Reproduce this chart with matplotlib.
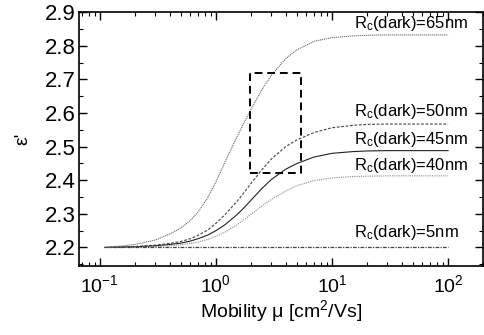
import matplotlib
matplotlib.use("Agg")
import matplotlib.pyplot as plt
from matplotlib.ticker import MultipleLocator, LogLocator, NullFormatter

plt.rcParams["font.family"] = ["Liberation Sans", "DejaVu Sans"]
plt.rcParams["mathtext.fontset"] = "custom"
plt.rcParams["mathtext.rm"] = "Liberation Sans"
plt.rcParams["mathtext.it"] = "Liberation Sans:italic"

# mobility grid (cm^2/Vs) and epsilon'
mobility = [0.11, 0.15, 0.2, 0.3, 0.4, 0.5, 0.6, 0.7, 0.85, 1.0, 1.2, 1.5, 1.7,
            2.0, 2.5, 3.0, 4.0, 5.0, 7.0, 10, 15, 20, 30, 50, 100]
eps_65 = [2.201, 2.204, 2.209, 2.222, 2.240, 2.258, 2.280, 2.305, 2.348, 2.395, 2.455, 2.525, 2.563,
          2.610, 2.670, 2.712, 2.762, 2.788, 2.813, 2.824, 2.829, 2.831, 2.832, 2.832, 2.832]
eps_50 = [2.200, 2.201, 2.203, 2.207, 2.212, 2.218, 2.226, 2.236, 2.252, 2.272, 2.298, 2.335, 2.358,
          2.390, 2.432, 2.463, 2.500, 2.520, 2.542, 2.556, 2.563, 2.566, 2.567, 2.567, 2.567]
eps_45 = [2.200, 2.201, 2.202, 2.205, 2.209, 2.213, 2.219, 2.226, 2.237, 2.250, 2.268, 2.296, 2.314,
          2.340, 2.376, 2.402, 2.433, 2.450, 2.469, 2.480, 2.485, 2.487, 2.488, 2.488, 2.488]
eps_40 = [2.200, 2.200, 2.201, 2.203, 2.205, 2.208, 2.212, 2.216, 2.224, 2.233, 2.246, 2.266, 2.280,
          2.298, 2.324, 2.343, 2.368, 2.384, 2.399, 2.407, 2.411, 2.412, 2.413, 2.413, 2.413]
eps_5 = [2.200, 2.200, 2.200, 2.200, 2.200, 2.200, 2.200, 2.200, 2.200, 2.200, 2.200, 2.200, 2.200,
         2.200, 2.200, 2.200, 2.200, 2.200, 2.200, 2.200, 2.200, 2.200, 2.200, 2.200, 2.200]

labels = ["65nm", "50nm", "45nm", "40nm", "5nm"]
label_y = [2.866, 2.603, 2.522, 2.445, 2.245]

# highlighted region (mu range, eps range)
box_mu = [1.96, 5.4]
box_eps = [2.422, 2.718]

fig = plt.figure(figsize=(4.84, 3.35), dpi=100)
ax = fig.add_axes([0.163, 0.206, 0.835, 0.758])

styles = [
    dict(ls=(0, (1, 0.8)), color="#666666", lw=0.8),
    dict(ls=(0, (2.5, 1.5)), color="#444444", lw=0.8),
    dict(ls="-", color="#222222", lw=0.8),
    dict(ls=(0, (1, 1)), color="#888888", lw=0.8),
    dict(ls=(0, (3, 1, 1, 1)), color="#444444", lw=0.9),
]
for eps, st in zip([eps_65, eps_50, eps_45, eps_40, eps_5], styles):
    ax.plot(mobility, eps, **st)

ax.plot([box_mu[0], box_mu[1], box_mu[1], box_mu[0], box_mu[0]],
        [box_eps[0], box_eps[0], box_eps[1], box_eps[1], box_eps[0]],
        color="black", lw=1.4, ls=(0, (4, 2.5)))

for lab, y in zip(labels, label_y):
    ax.text(15.6, y, r"R$_\mathrm{c}$(dark)=" + lab, fontsize=12, va="center", ha="left")

ax.set_xscale("log")
ax.set_xlim(0.066, 200)
ax.set_ylim(2.145, 2.9)
ax.yaxis.set_major_locator(MultipleLocator(0.1))
ax.yaxis.set_minor_locator(MultipleLocator(0.05))
ax.xaxis.set_major_locator(LogLocator(base=10, numticks=10))
ax.xaxis.set_minor_locator(LogLocator(base=10, subs=range(2, 10), numticks=20))
ax.xaxis.set_minor_formatter(NullFormatter())

ax.tick_params(which="both", direction="in", top=True, right=True)
ax.tick_params(which="major", length=6, width=1)
ax.tick_params(which="minor", length=3, width=0.8)
ax.tick_params(axis="y", labelsize=16, pad=2)
ax.tick_params(axis="x", labelsize=14, pad=6)
for s in ax.spines.values():
    s.set_linewidth(1.2)

ax.set_xlabel("Mobility μ [cm$^2$/Vs]", fontsize=14, labelpad=1)
ax.set_ylabel("ε'", fontsize=14, labelpad=10)

fig.savefig("out.png", dpi=100)
